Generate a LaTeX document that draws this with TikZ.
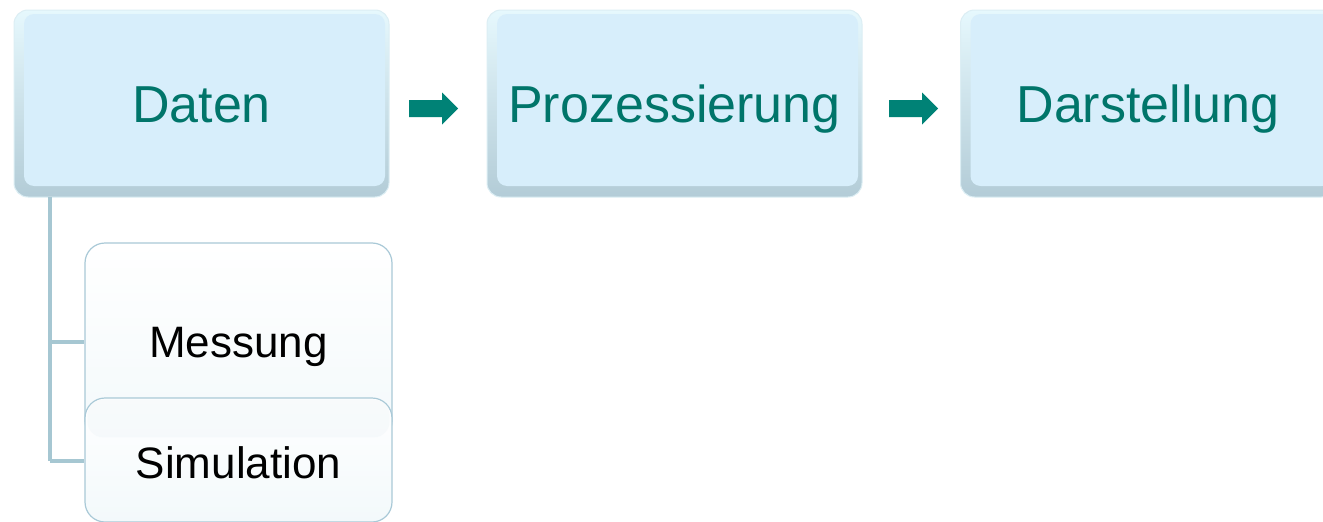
\documentclass[tikz,border=0pt]{standalone}
\usepackage{fontspec}
\setmainfont{Liberation Sans}
\definecolor{boxfill}{HTML}{D7EEFB}
\definecolor{bevtop}{HTML}{E6F8FD}
\definecolor{bevbot}{HTML}{B3CCD7}
\definecolor{bevrim}{HTML}{DCEEF4}
\definecolor{tealtext}{HTML}{00756A}
\definecolor{tealarrow}{HTML}{008276}
\definecolor{treeline}{HTML}{A6C7D2}
\definecolor{subrim}{HTML}{A9C9D7}
\definecolor{subbot}{HTML}{F3F9FB}
\tikzset{
  mainbox/.style={rounded corners=14pt, minimum width=375pt, minimum height=187pt,
    top color=bevtop, bottom color=bevbot, draw=bevrim, line width=1pt,
    text=tealtext, font=\fontsize{52}{60}\selectfont, text height=37pt, text depth=0pt,
    path picture={\fill[boxfill, rounded corners=10pt]
      ([xshift=10pt,yshift=-4pt]path picture bounding box.north west) rectangle
      ([xshift=-4pt,yshift=11pt]path picture bounding box.south east);}},
  subbox/.style={rounded corners=20pt, minimum width=307pt,
    top color=white, bottom color=subbot, draw=subrim, line width=1.2pt,
    text=black, font=\fontsize{44}{52}\selectfont, text height=31pt, text depth=0pt},
  blockarrow/.style={fill=tealarrow, draw=none},
  branch/.style={treeline, line width=4.5pt}
}
\begin{document}
\begin{tikzpicture}[x=1pt,y=-1pt]
\clip (0,0) rectangle (1323,522);
\fill[white] (0,0) rectangle (1323,522);
\coordinate (top) at (50,197);
\coordinate (bend1) at (50,342);
\coordinate (bend2) at (50,461);
\node[mainbox] (daten) at (201.5,103.5) {Daten};
\node[mainbox] (proz) at (674.5,103.5) {Prozessierung};
\node[mainbox] (darst) at (1148,103.5) {Darstellung};
\coordinate (a1) at (409,108.5);
\coordinate (a2) at (889,108.5);
\fill[blockarrow] (a1) ++(0,-8.5) -- ++(33,0) -- ++(0,-7.5) -- ++(16,16) -- ++(-16,16) -- ++(0,-7.5) -- ++(-33,0) -- cycle;
\fill[blockarrow] (a2) ++(0,-8.5) -- ++(33,0) -- ++(0,-7.5) -- ++(16,16) -- ++(-16,16) -- ++(0,-7.5) -- ++(-33,0) -- cycle;
\node[subbox, minimum height=198pt] (mess) at (238.5,342) {Messung};
\node[subbox, minimum height=124pt] (sim) at (238.5,460) {};
\fill[white!70!subrim, opacity=0.25, rounded corners=16pt] ([xshift=3pt,yshift=-2pt]sim.north west) rectangle ([xshift=-3pt,yshift=-40pt]sim.north east);
\node[font=\fontsize{44}{52}\selectfont, text height=31pt, text depth=0pt] (simtext) at (238.5,462.5) {Simulation};
\draw[branch] (top) -- (bend2);
\draw[branch] (bend1) -- (bend1 -| mess.west);
\draw[branch] (bend2) -- (bend2 -| sim.west);
\end{tikzpicture}
\end{document}
